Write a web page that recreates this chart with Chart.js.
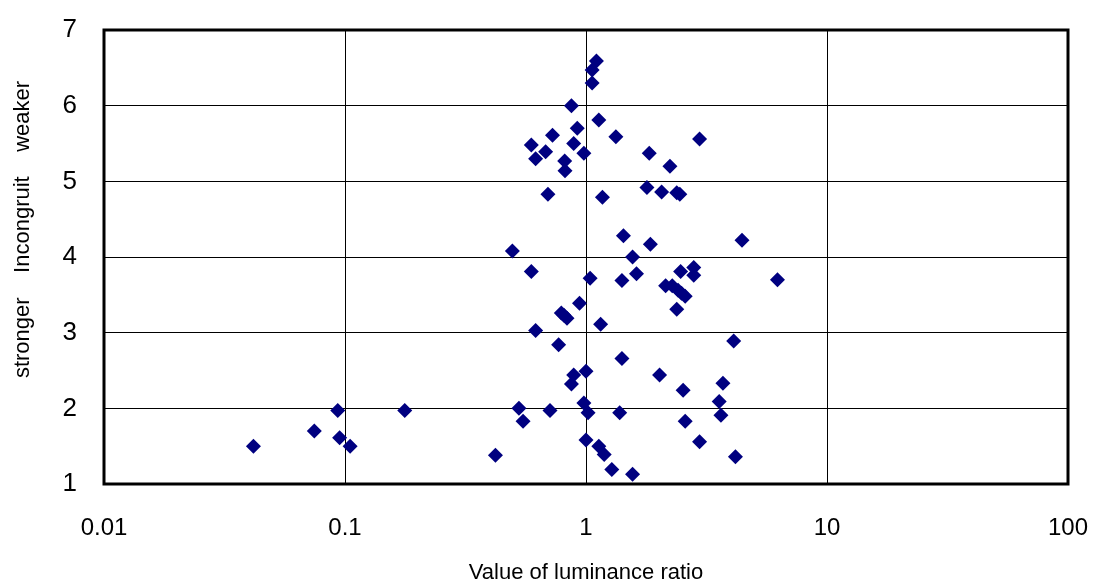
<!DOCTYPE html>
<html>
<head>
<meta charset="utf-8">
<script src="https://cdn.jsdelivr.net/npm/chart.js@4/dist/chart.umd.min.js"></script>
<style>
  body { margin: 0; background: #fff; }
  #wrap { width: 1094px; height: 586px; }
</style>
</head>
<body>
<div id="wrap"><canvas id="scatterChart"></canvas></div>
<script>
// luminance ratio (x) and incongruity score (y)
const luminanceRatio = [
  1.105, 1.06, 1.06, 0.87, 1.13, 0.92, 0.726, 1.33, 2.96, 0.593,
  0.889, 0.68, 0.98, 0.618, 1.83, 0.816, 0.818, 2.23, 1.79, 2.06,
  2.38, 2.45, 0.695, 1.17,
  1.43, 1.85, 4.44, 0.495, 1.56, 0.593, 2.47, 2.80, 2.80, 1.04,
  1.41, 1.62, 6.23, 2.14, 2.28, 2.41, 2.49, 2.58, 2.38, 0.94,
  0.79, 0.834, 0.81, 1.15, 0.618, 4.10, 0.77,
  1.41, 1.0, 0.889, 0.87, 2.02, 2.53, 3.70, 3.57, 3.63, 0.527,
  0.548, 0.709, 0.98, 1.02, 1.38, 2.58, 2.96, 4.17, 1.0, 1.13,
  1.19, 1.28, 1.56, 0.421,
  0.0933, 0.177, 0.0746, 0.095, 0.105, 0.0417
];
const incongruity = [
  6.59, 6.47, 6.30, 6.00, 5.81, 5.70, 5.61, 5.59, 5.56, 5.48,
  5.50, 5.39, 5.37, 5.30, 5.37, 5.27, 5.14, 5.20, 4.92, 4.86,
  4.85, 4.83, 4.83, 4.79,
  4.28, 4.17, 4.22, 4.08, 4.00, 3.81, 3.81, 3.86, 3.76, 3.72,
  3.69, 3.78, 3.70, 3.62, 3.62, 3.56, 3.52, 3.48, 3.31, 3.39,
  3.26, 3.19, 3.23, 3.11, 3.03, 2.89, 2.84,
  2.66, 2.49, 2.44, 2.32, 2.44, 2.24, 2.33, 2.09, 1.91, 2.00,
  1.83, 1.97, 2.07, 1.94, 1.94, 1.83, 1.56, 1.36, 1.58, 1.50,
  1.39, 1.19, 1.13, 1.38,
  1.97, 1.97, 1.70, 1.61, 1.50, 1.50
];
const xTicks = [0.01, 0.1, 1, 10, 100];
const yTicks = [1, 2, 3, 4, 5, 6, 7];

const points = luminanceRatio.map((x, i) => ({ x: x, y: incongruity[i] }));

// thick black frame around the plot area
const frame = {
  id: 'frame',
  afterDraw(chart) {
    const a = chart.chartArea;
    const c = chart.ctx;
    c.save();
    c.strokeStyle = '#000';
    c.lineWidth = 3;
    c.strokeRect(a.left, a.top, a.right - a.left, a.bottom - a.top);
    c.restore();
  }
};

const ctx = document.getElementById('scatterChart').getContext('2d');
new Chart(ctx, {
  type: 'scatter',
  data: {
    datasets: [{
      data: points,
      pointStyle: 'rectRot',
      pointRadius: 7.5,
      pointHoverRadius: 7.5,
      backgroundColor: '#000080',
      borderColor: '#000080',
      borderWidth: 0
    }]
  },
  options: {
    responsive: true,
    maintainAspectRatio: false,
    animation: false,
    layout: { padding: { top: 30, right: 26, left: 0, bottom: 0 } },
    plugins: {
      legend: { display: false },
      tooltip: { enabled: false }
    },
    scales: {
      x: {
        type: 'logarithmic',
        min: 0.01,
        max: 100,
        afterBuildTicks: scale => { scale.ticks = xTicks.map(v => ({ value: v })); },
        afterFit: scale => {
          scale.height = 102;
          scale.paddingLeft = 0;
          scale.paddingRight = 0;
        },
        ticks: {
          color: '#000',
          padding: 30,
          font: { family: 'Liberation Sans', size: 24 },
          maxRotation: 0,
          callback: v => String(v)
        },
        grid: { color: '#000', lineWidth: 1, drawTicks: false },
        border: { display: false },
        title: {
          display: true,
          text: 'Value of luminance ratio',
          color: '#000',
          font: { family: 'Liberation Sans', size: 22 },
          padding: { top: 10, bottom: 0 }
        }
      },
      y: {
        min: 1,
        max: 7,
        afterBuildTicks: scale => { scale.ticks = yTicks.map(v => ({ value: v })); },
        afterFit: scale => {
          scale.width = 104;
          scale.paddingTop = 0;
          scale.paddingBottom = 0;
        },
        ticks: {
          color: '#000',
          padding: 27,
          font: { family: 'Liberation Sans', size: 26 }
        },
        grid: { color: '#000', lineWidth: 1, drawTicks: false },
        border: { display: false },
        title: {
          display: true,
          text: '         stronger    Incongruit    weaker',
          color: '#000',
          font: { family: 'Liberation Sans', size: 22 },
          padding: { top: 10, bottom: 0 }
        }
      }
    }
  },
  plugins: [frame]
});
</script>
</body>
</html>
